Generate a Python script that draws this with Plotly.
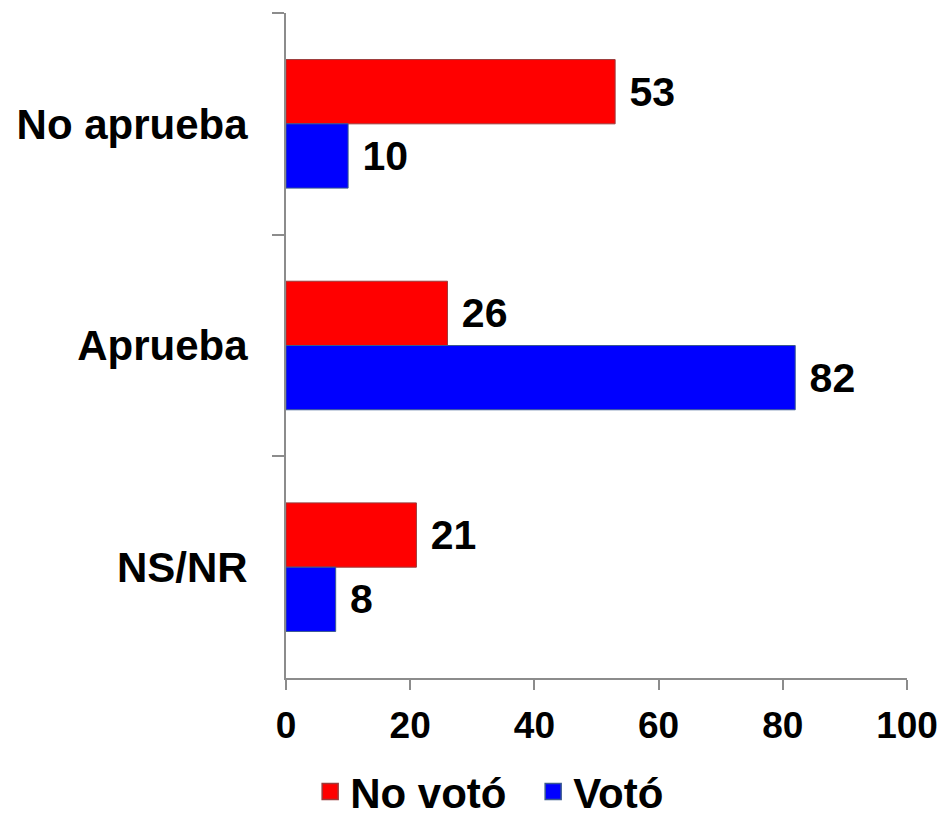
import plotly.graph_objects as go

categories = ["No aprueba", "Aprueba", "NS/NR"]
no_voto = [53, 26, 21]
voto = [10, 82, 8]
x_ticks = [0, 20, 40, 60, 80, 100]

font_family = "Liberation Sans, Arial, sans-serif"
red, red_line = "#FF0000", "#9B3B3B"
blue, blue_line = "#0000FF", "#3B5B8F"

fig = go.Figure()
fig.add_trace(go.Bar(
    y=categories, x=no_voto, orientation="h", name="No votó", showlegend=False,
    marker=dict(color=red, line=dict(color=red_line, width=1)),
    texttemplate=" %{x}", textposition="outside",
    textfont=dict(family=font_family, size=41, color="black", weight="bold"),
    cliponaxis=False,
))
fig.add_trace(go.Bar(
    y=categories, x=voto, orientation="h", name="Votó", showlegend=False,
    marker=dict(color=blue, line=dict(color=blue_line, width=1)),
    texttemplate=" %{x}", textposition="outside",
    textfont=dict(family=font_family, size=41, color="black", weight="bold"),
    cliponaxis=False,
))
# legend entries with square symbols
for name, c, lc in [("No votó", red, red_line), ("Votó", blue, blue_line)]:
    fig.add_trace(go.Scatter(
        x=[None], y=[None], mode="markers", name=name,
        marker=dict(symbol="square", size=16, color=c, line=dict(color=lc, width=1.5)),
        showlegend=True,
    ))

fig.update_layout(
    width=931, height=809,
    margin=dict(l=278, r=32, t=5, b=139, autoexpand=False),
    barmode="group", bargap=0.42, bargroupgap=0,
    plot_bgcolor="white", paper_bgcolor="white",
    font=dict(family=font_family, size=42, color="black", weight="bold"),
    legend=dict(orientation="h", x=0.398, xanchor="center", y=-0.171, yanchor="middle",
                font=dict(size=42, family=font_family, weight="bold"),
                itemwidth=30, entrywidth=178, traceorder="normal",
                bgcolor="rgba(0,0,0,0)"),
)
fig.update_xaxes(
    range=[0, 100], tickvals=x_ticks, ticks="outside", ticklen=10, tickwidth=2,
    tickcolor="#8C8C8C", showline=True, linecolor="#8C8C8C", linewidth=2,
    showgrid=False, zeroline=False, ticklabelstandoff=4, automargin=False,
    tickfont=dict(size=37, family=font_family, weight="bold"),
)
fig.update_yaxes(
    categoryorder="array", categoryarray=categories, autorange="reversed",
    ticks="outside", ticklen=12, tickwidth=2, tickcolor="#8C8C8C", tickson="boundaries",
    showline=True, linecolor="#8C8C8C", linewidth=2, showgrid=False,
    ticklabelstandoff=28, automargin=False,
    tickfont=dict(size=42, family=font_family, weight="bold"),
)

fig.write_html("out.html")
